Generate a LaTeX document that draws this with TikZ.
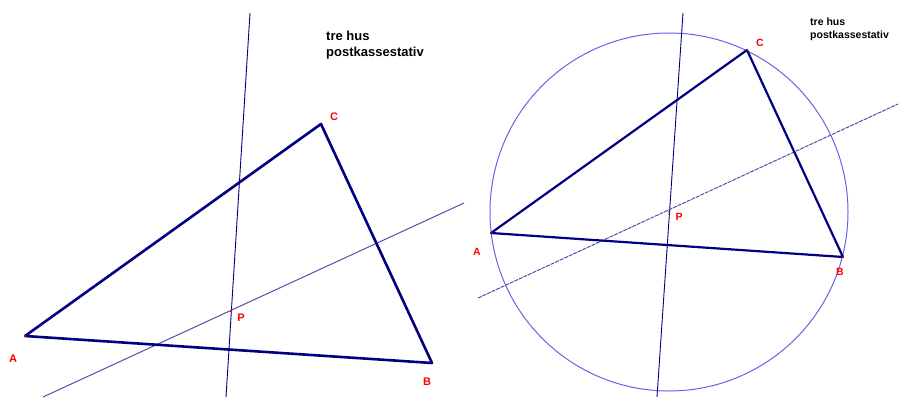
\documentclass[tikz,border=0pt]{standalone}
\usepackage{fontspec}
\setmainfont{Liberation Sans}
\begin{document}
\begin{tikzpicture}[x=1pt,y=-1pt,
  tri/.style={draw=navy,line width=2.6pt,line join=round},
  bis/.style={draw=navy,line width=0.9pt},
  bisl/.style={draw=lblue,line width=1pt},
  circ/.style={draw=cblue,line width=1pt},
  lbl/.style={text=red,font=\bfseries\fontsize{11}{12}\selectfont,inner sep=0pt},
  lbls/.style={text=red,font=\bfseries\fontsize{10.5}{11}\selectfont,inner sep=0pt},
  note/.style={font=\bfseries\fontsize{13}{16}\selectfont,align=left,anchor=north west,inner sep=0pt},
  notes/.style={font=\bfseries\fontsize{10.5}{12.5}\selectfont,align=left,anchor=north west,inner sep=0pt},
  pt/.style={circle,fill=red,inner sep=0pt,minimum size=2.5pt}]
\definecolor{navy}{RGB}{0,0,128}
\definecolor{lblue}{RGB}{80,80,170}
\definecolor{cblue}{RGB}{100,100,235}
\useasboundingbox (0,0) rectangle (900,397);
% ---------- left panel ----------
\coordinate (A1) at (25,336);
\coordinate (B1) at (432,363);
\coordinate (C1) at (321,124);
\coordinate (V1t) at (250,13);
\coordinate (V1b) at (226,397);
\coordinate (L1a) at (43,397);
\coordinate (L1b) at (464,203);
\draw[bis] (V1t) -- (V1b);
\draw[bisl] (L1a) -- (L1b);
\draw[tri] (A1) -- (C1) -- (B1) -- cycle;
\node[pt] (A1d) at (A1) {};
\node[pt] (P1) at (231,311) {};
\node[lbl] (la1) at (13,359) {A};
\node[lbl] (lb1) at (427,382) {B};
\node[lbl] (lc1) at (334,117) {C};
\node[lbl] (lp1) at (241,318) {P};
\node[note] (n1) at (326,31) {tre hus\\postkassestativ};
% ---------- right panel ----------
\coordinate (O) at (669,212);
\coordinate (A2) at (491,233);
\coordinate (B2) at (843,257);
\coordinate (C2) at (747,50);
\coordinate (V2t) at (683,13);
\coordinate (V2b) at (657,397);
\coordinate (L2a) at (478,298);
\coordinate (L2b) at (898,104);
\draw[circ] (O) circle[radius=179];
\draw[bis] (V2t) -- (V2b);
\draw[bisl,dash pattern=on 4pt off 1pt] (L2a) -- (L2b);
\draw[tri,line width=2.2pt] (A2) -- (C2) -- (B2) -- cycle;
\node[pt,minimum size=2pt] (P2) at (O) {};
\node[pt,minimum size=2pt] (A2d) at (A2) {};
\node[pt,minimum size=2pt] (B2d) at (B2) {};
\node[pt,minimum size=2pt] (C2d) at (C2) {};
\node[lbls] (la2) at (477,252) {A};
\node[lbls] (lb2) at (840,272) {B};
\node[lbls] (lc2) at (760,43) {C};
\node[lbls] (lp2) at (679,217) {P};
\node[notes] (n2) at (810,18) {tre hus\\postkassestativ};
\end{tikzpicture}
\end{document}
